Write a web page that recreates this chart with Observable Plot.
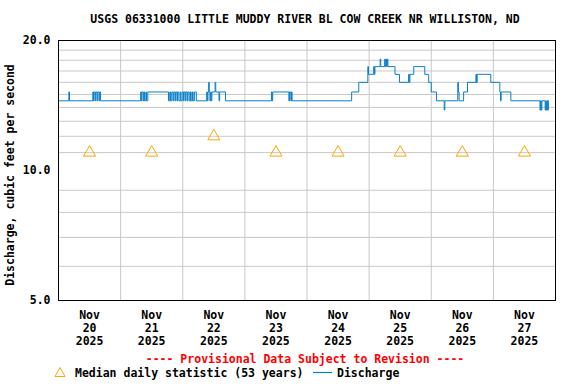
<!DOCTYPE html>
<html><head><meta charset="utf-8">
<script src="https://cdn.jsdelivr.net/npm/d3@7"></script>
<script src="https://cdn.jsdelivr.net/npm/@observablehq/plot@0.6"></script>
<style>
body{margin:0;background:#fff;}
#wrap{position:relative;width:576px;height:384px;font-family:"DejaVu Sans Mono",monospace;font-weight:bold;font-size:11.5px;color:#000;}
#wrap svg{position:absolute;left:0;top:0;}
.t{position:absolute;white-space:pre;line-height:1;}
</style></head><body><div id="wrap"></div>
<script>
const title = "USGS 06331000 LITTLE MUDDY RIVER BL COW CREEK NR WILLISTON, ND";
const yLabel = "Discharge, cubic feet per second";
const provisional = "---- Provisional Data Subject to Revision ----";
const legendMedian = "Median daily statistic (53 years)";
const legendDischarge = "Discharge";

const days = ["2025-11-20","2025-11-21","2025-11-22","2025-11-23","2025-11-24","2025-11-25","2025-11-26","2025-11-27"];
const medianValues = [11, 11, 12, 11, 11, 11, 11, 11];
const yTicks = [5, 10, 20];
const yGrid = [6, 7, 8, 9, 11, 12, 13, 14, 15, 16, 17, 18, 19];

const dischargeTimes = [
 "11-20T00:00","11-20T04:00","11-20T04:15","11-20T13:15","11-20T13:30","11-20T13:45","11-20T14:15","11-20T14:30","11-20T15:00","11-20T15:15","11-20T15:45","11-20T16:00","11-20T16:15",
 "11-21T07:45","11-21T08:00","11-21T08:15","11-21T08:45","11-21T09:00","11-21T09:15","11-21T09:45","11-21T10:00","11-21T10:30","11-21T18:30","11-21T19:00","11-21T19:15","11-21T19:45","11-21T20:15","11-21T20:30","11-21T21:00","11-21T21:15","11-21T21:45","11-21T22:00","11-21T22:30","11-21T23:00","11-21T23:15","11-21T23:45",
 "11-22T00:15","11-22T00:30","11-22T01:00","11-22T01:15","11-22T01:45","11-22T02:00","11-22T02:30","11-22T03:00","11-22T03:15","11-22T03:45","11-22T04:00","11-22T04:30","11-22T05:15","11-22T09:15","11-22T09:30","11-22T09:45","11-22T10:00","11-22T10:15","11-22T10:30","11-22T10:45","11-22T11:00","11-22T11:15","11-22T12:30","11-22T12:45","11-22T14:00","11-22T14:15","11-22T16:30",
 "11-23T10:15","11-23T10:30","11-23T10:45","11-23T17:00","11-23T17:15","11-23T17:45","11-23T18:00","11-23T18:15",
 "11-24T17:15","11-24T20:00","11-24T23:30","11-24T23:45",
 "11-25T01:45","11-25T02:00","11-25T02:15","11-25T04:15","11-25T04:30","11-25T06:00","11-25T06:15","11-25T06:30","11-25T06:45","11-25T07:00","11-25T07:15","11-25T10:00","11-25T11:45","11-25T15:15","11-25T15:30","11-25T15:45","11-25T17:15","11-25T21:30","11-25T23:00",
 "11-26T00:00","11-26T02:00","11-26T05:00","11-26T05:15","11-26T10:15","11-26T10:30","11-26T10:45","11-26T12:30","11-26T14:00","11-26T17:15","11-26T17:30","11-26T17:45","11-26T23:00",
 "11-27T02:30","11-27T02:45","11-27T03:00","11-27T06:45","11-27T18:00","11-27T18:15","11-27T18:30","11-27T18:45","11-27T20:00","11-27T20:15","11-27T20:30","11-27T20:45","11-27T21:00","11-27T21:15"
];
const dischargeValues = [
 14.5,15.2,14.5,15.2,14.5,15.2,14.5,15.2,14.5,15.2,14.5,15.2,14.5,
 15.2,14.5,15.2,14.5,15.2,14.5,15.2,14.5,15.2,14.5,15.2,14.5,15.2,14.5,15.2,14.5,15.2,14.5,15.2,14.5,15.2,14.5,15.2,
 14.5,15.2,14.5,15.2,14.5,15.2,14.5,15.2,14.5,15.2,14.5,15.2,14.5,15.2,14.5,15.2,16.0,15.2,14.5,15.2,14.5,15.2,16.0,15.2,14.5,15.2,14.5,
 15.2,14.5,15.2,14.5,15.2,14.5,15.2,14.5,
 15.2,16.0,17.4,16.7,
 17.4,16.7,17.4,18.1,17.4,18.1,17.4,18.1,17.4,18.1,17.4,16.7,16.0,16.7,16.0,16.7,17.4,16.7,16.0,
 15.2,14.5,13.8,14.5,16.0,15.2,14.5,15.2,16.0,16.7,16.0,16.7,16.0,
 15.2,14.5,15.2,14.5,13.8,14.5,13.8,14.5,13.8,14.5,13.8,14.5,13.8,14.5
];

const discharge = dischargeTimes.map((t, i) => ({t: new Date("2025-" + t + "Z"), v: dischargeValues[i]}));
const median = days.map((d, i) => ({t: new Date(d + "T12:00Z"), v: medianValues[i]}));
const noon = days.map(d => new Date(d + "T12:00Z"));
const midnights = days.slice(1).map(d => new Date(d + "T00:00Z"));

const chart = Plot.plot({
  width: 576, height: 384,
  marginLeft: 58, marginRight: 21, marginTop: 40, marginBottom: 84,
  style: {fontFamily: "DejaVu Sans Mono, monospace", fontWeight: "bold", fontSize: "11.5px", color: "black", background: "white"},
  x: {type: "utc", domain: [new Date("2025-11-20T00:00Z"), new Date("2025-11-28T00:00Z")]},
  y: {type: "log", domain: [5, 20]},
  marks: [
    Plot.ruleY(yGrid, {stroke: "#c8c8c8", strokeWidth: 1}),
    Plot.ruleX(midnights, {stroke: "#c8c8c8", strokeWidth: 1}),
    Plot.axisY(yTicks, {tickFormat: d => d.toFixed(1), tickSize: 0, tickPadding: 8, label: null, fill: "black"}),
    Plot.axisX(noon, {tickFormat: d => `${d3.utcFormat("%b")(d)}\n${d.getUTCDate()}\n${d.getUTCFullYear()}`, tickSize: 0, tickPadding: 9, label: null, lineHeight: 1.13, fill: "black"}),
    Plot.line(discharge, {x: "t", y: "v", curve: "step-after", stroke: "#0a7fc8", strokeWidth: 1}),
    Plot.dot(median, {x: "t", y: "v", symbol: "triangle", stroke: "#ffa500", fill: "none", r: 4.5, strokeWidth: 1}),
    Plot.frame({stroke: "black", strokeWidth: 1})
  ]
});
const wrap = document.getElementById("wrap");
wrap.appendChild(chart);

function addText(txt, x, y, opts = {}) {
  const el = document.createElement("div");
  el.className = "t";
  el.textContent = txt;
  el.style.left = x + "px";
  el.style.top = y + "px";
  Object.assign(el.style, opts);
  wrap.appendChild(el);
  return el;
}
addText(title, 305, 14, {transform: "translateX(-50%)"});
addText(yLabel, 11, 175, {transform: "translate(-50%,-50%) rotate(-90deg)"});
addText(provisional, 305, 354, {transform: "translateX(-50%)", color: "red"});
addText(legendMedian, 75, 368);
addText(legendDischarge, 337, 368);

const ns = "http://www.w3.org/2000/svg";
const lg = document.createElementNS(ns, "svg");
lg.setAttribute("width", 576); lg.setAttribute("height", 384);
lg.style.pointerEvents = "none";
const tri = document.createElementNS(ns, "path");
tri.setAttribute("d", "M60,367.5 L65,376.5 L55,376.5 Z");
tri.setAttribute("fill", "none"); tri.setAttribute("stroke", "#ffa500");
lg.appendChild(tri);
const ln = document.createElementNS(ns, "line");
ln.setAttribute("x1", 313); ln.setAttribute("x2", 332); ln.setAttribute("y1", 372.5); ln.setAttribute("y2", 372.5);
ln.setAttribute("stroke", "#0a7fc8"); ln.setAttribute("stroke-width", 1.2);
lg.appendChild(ln);
wrap.appendChild(lg);
</script></body></html>
